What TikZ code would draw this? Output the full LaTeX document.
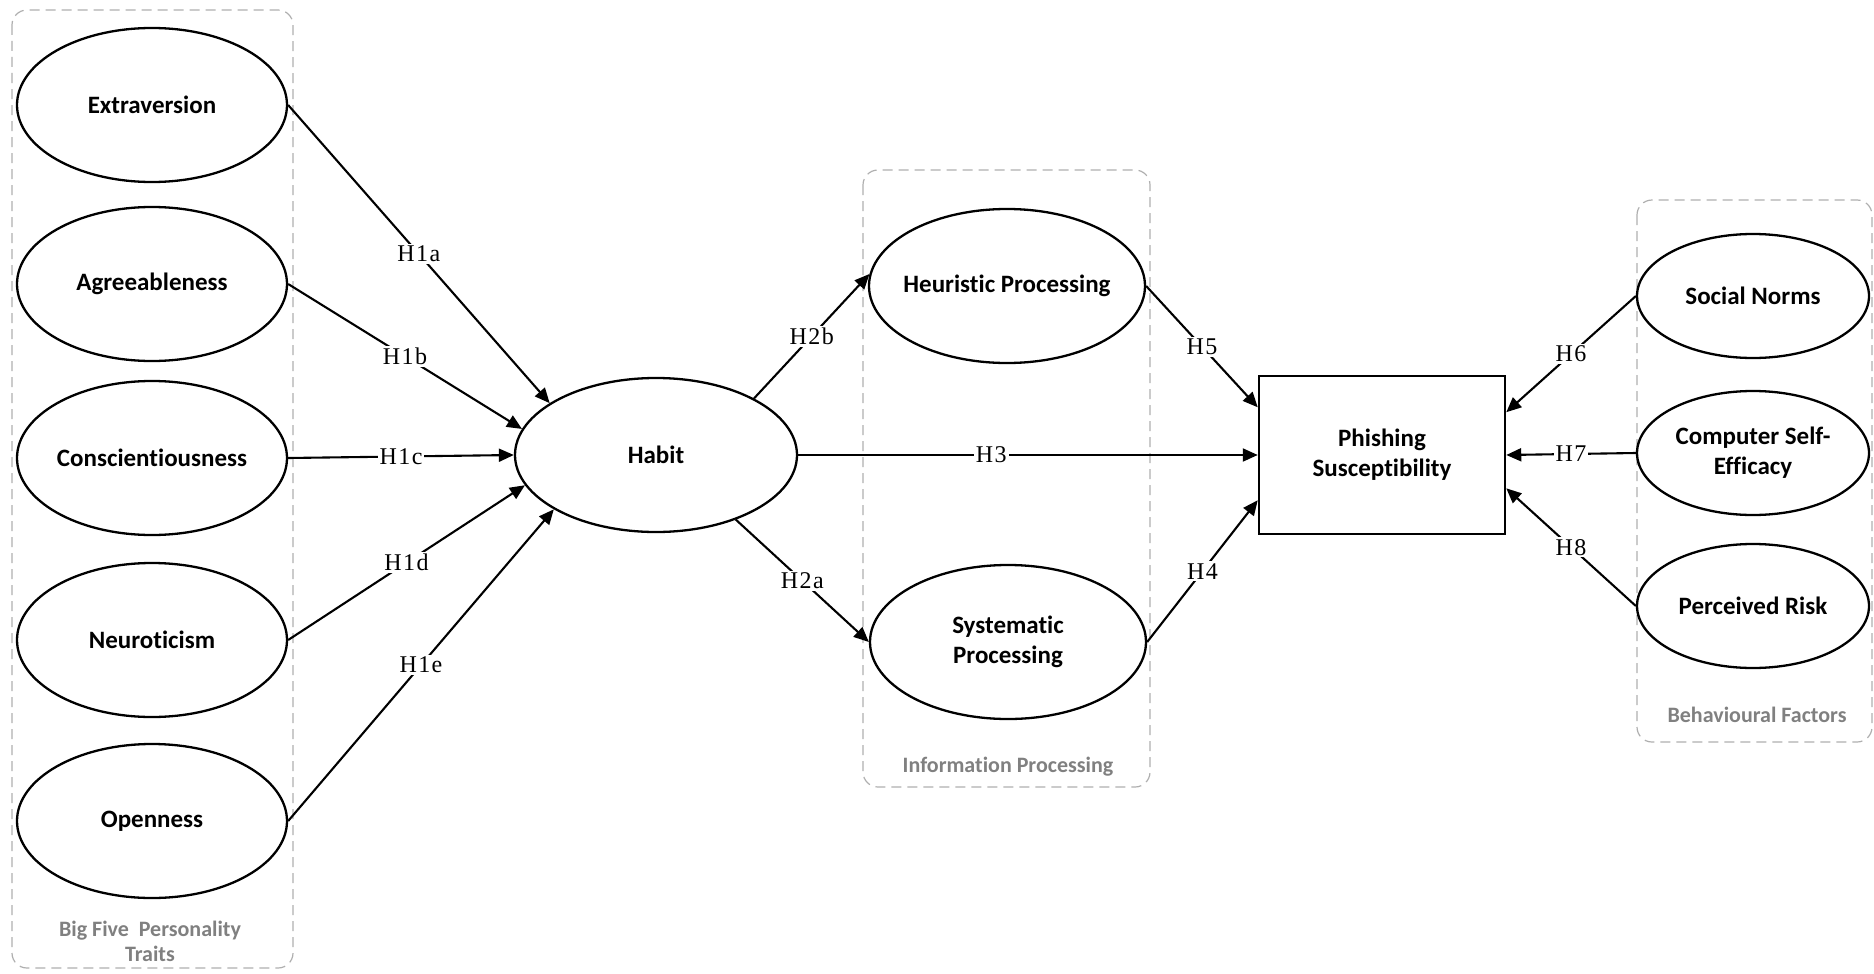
\documentclass[tikz,border=0pt]{standalone}
\usepackage{fontspec}
\setmainfont{Liberation Serif}
\newfontfamily\calib[Ligatures=NoCommon]{Carlito}
\newfontfamily\hypfont[LetterSpace=6]{Liberation Serif}
\usetikzlibrary{arrows.meta,shapes.geometric}
\definecolor{grpline}{RGB}{175,175,175}
\definecolor{grptext}{RGB}{128,128,128}
\begin{document}
\begin{tikzpicture}[x=1pt,y=-1pt,
  every node/.style={inner sep=0pt},
  oval/.style={ellipse, draw, line width=2.3pt, fill=white},
  leftoval/.style={oval, minimum width=270pt, minimum height=154pt},
  midoval/.style={oval, minimum width=276pt, minimum height=154pt},
  rightoval/.style={oval, minimum width=232pt, minimum height=124pt},
  nlbl/.style={font=\calib\bfseries\fontsize{25}{30}\selectfont, align=center},
  hyp/.style={font=\hypfont\fontsize{24}{26}\selectfont, fill=white, inner sep=2pt},
  link/.style={line width=2.1pt, -{Triangle[length=15pt,width=13pt]}},
  group/.style={draw=grpline, dash pattern=on 10pt off 6pt, line width=1.2pt, rounded corners=15pt},
  grplbl/.style={font=\calib\bfseries\fontsize{22}{25}\selectfont, text=grptext, align=center}
]
\useasboundingbox (0,0) rectangle (1874,974);

% groups
\draw[group] (12,10) rectangle (293,968);
\draw[group] (863,170) rectangle (1150,787);
\draw[group] (1637,200) rectangle (1872,742);
\node[grplbl] (glbig) at (150,941) {Big Five~ Personality\\Traits};
\node[grplbl] (glinfo) at (1008,767) {Information Processing};
\node[grplbl] (glbeh) at (1757,715) {Behavioural Factors};

% left column
\node[leftoval, label={[nlbl]center:Extraversion}] (extra) at (152,105) {};
\node[leftoval, label={[nlbl]center:Agreeableness}] (agree) at (152,284) {};
\node[leftoval, label={[nlbl]center:Conscientiousness}] (consc) at (152,458) {};
\node[leftoval, label={[nlbl]center:Neuroticism}] (neuro) at (152,640) {};
\node[leftoval, label={[nlbl]center:Openness}] (open) at (152,821) {};

% habit
\node[oval, minimum width=282pt, minimum height=154pt, label={[nlbl]center:Habit}] (habit) at (656,455) {};

% information processing
\node[midoval, label={[nlbl]center:Heuristic Processing}] (heur) at (1007,286) {};
\node[midoval, label={[nlbl]center:{Systematic\\Processing}}] (syst) at (1008,642) {};

% outcome
\node[draw, line width=2.5pt, fill=white, minimum width=246pt, minimum height=158pt, nlbl] (phish) at (1382,455) {Phishing\\Susceptibility};

% behavioural
\node[rightoval, label={[nlbl]center:Social Norms}] (social) at (1753,296) {};
\node[rightoval, label={[nlbl]center:{Computer Self-\\Efficacy}}] (cse) at (1753,453) {};
\node[rightoval, label={[nlbl]center:Perceived Risk}] (risk) at (1753,606) {};

% connectors
\draw[link] (extra.east) -- node[hyp] {H1a} (habit.154);
\draw[link] (agree.east) -- node[hyp] {H1b} (habit.169);
\draw[link] (consc.east) -- node[hyp] {H1c} (habit.west);
\draw[link] (neuro.east) -- node[hyp] {H1d} (habit.193);
\draw[link] (open.east) -- node[hyp] {H1e} (habit.208);

\draw[link] (habit.30) -- node[hyp] {H2b} (heur.175);
\draw[link] (habit.321) -- node[hyp] {H2a} (syst.west);
\draw[link] (habit.east) -- node[hyp, pos=0.42] {H3} (phish.west);
\draw[link] (heur.east) -- node[hyp] {H5} (phish.159.5);
\draw[link] (syst.east) -- node[hyp] {H4} (phish.200.5);

\draw[link] (social.west) -- node[hyp] {H6} (phish.19.3);
\draw[link] (cse.west) -- node[hyp] {H7} (phish.east);
\draw[link] (risk.west) -- node[hyp] {H8} (phish.345.9);
\end{tikzpicture}
\end{document}
